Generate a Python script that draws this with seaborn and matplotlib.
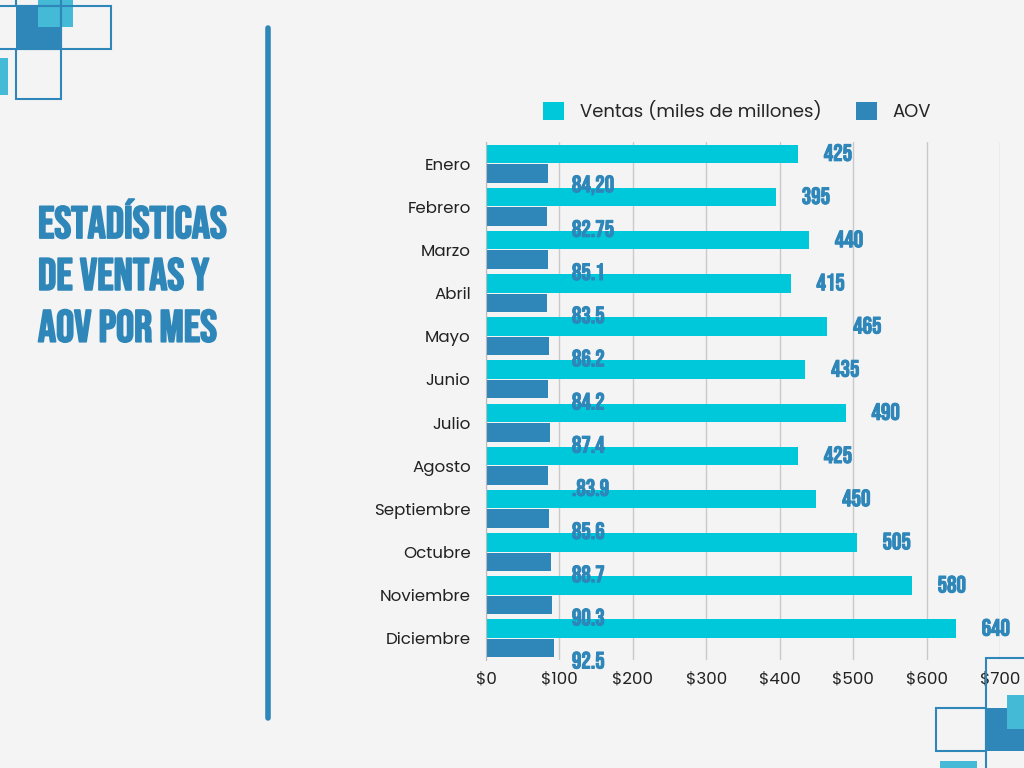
import numpy as np
import pandas as pd
import seaborn as sns
import matplotlib.pyplot as plt
import matplotlib.patheffects as pe
from matplotlib.patches import Rectangle, Patch
from matplotlib.lines import Line2D

meses = ["Enero", "Febrero", "Marzo", "Abril", "Mayo", "Junio", "Julio",
         "Agosto", "Septiembre", "Octubre", "Noviembre", "Diciembre"]
ventas = [425, 395, 440, 415, 465, 435, 490, 425, 450, 505, 580, 640]
aov = [84.20, 82.75, 85.1, 83.5, 86.2, 84.2, 87.4, 83.9, 85.6, 88.7, 90.3, 92.5]
aov_etiquetas = ["84,20", "82.75", "85.1", "83.5", "86.2", "84.2", "87.4",
                 ".83.9", "85.6", "88.7", "90.3", "92.5"]
x_ticks = [0, 100, 200, 300, 400, 500, 600, 700]
series = ["Ventas (miles de millones)", "AOV"]

CYAN = "#00C8DB"
AZUL = "#2E86B9"
CLARO = "#45BAD6"
FONDO = "#F4F4F4"

sns.set_style("white")
plt.rcParams["font.family"] = ["Poppins", "Open Sans", "DejaVu Sans"]
NARROW = ["Bebas Neue", "Anton", "Oswald", "Open Sans Condensed", "DejaVu Sans"]

df = pd.DataFrame({
    "mes": meses * 2,
    "serie": [series[0]] * len(meses) + [series[1]] * len(meses),
    "valor": ventas + aov,
})

W, H = 1024, 768
fig = plt.figure(figsize=(W / 100, H / 100), dpi=100, facecolor=FONDO)
ax = fig.add_axes([486 / W, 1 - 660 / H, 514 / W, 518 / H])
ax.set_facecolor(FONDO)

sns.barplot(data=df, y="mes", x="valor", hue="serie", orient="h",
            order=meses, hue_order=series, palette=[CYAN, AZUL],
            width=0.9, gap=0.05, saturation=1, linewidth=0, legend=False, ax=ax)

ax.set_xlim(0, 700)
ax.set_ylim(len(meses) - 0.5, -0.5)
ax.set_xticks(x_ticks)
ax.set_xticklabels([f"${t}" for t in x_ticks])
ax.set_xlabel("")
ax.set_ylabel("")
ax.tick_params(axis="both", length=0, labelsize=12, colors="#222222")
ax.tick_params(axis="y", pad=11)
ax.tick_params(axis="x", pad=8)
ax.grid(axis="x", color="#C9C9C9", lw=1)
ax.set_axisbelow(True)
for s in ["top", "right", "bottom"]:
    ax.spines[s].set_visible(False)
ax.spines["left"].set_color("#BBBBBB")

# etiquetas de valores (trazo fino para engrosar la fuente)
grueso = [pe.withStroke(linewidth=0.7, foreground=AZUL)]
for i, v in enumerate(ventas):
    ax.text(v + 35, i - 0.26, str(v), family=NARROW, fontsize=17,
            color=AZUL, va="center", ha="left", path_effects=grueso)
for i, lab in enumerate(aov_etiquetas):
    ax.text(117, i + 0.5, lab, family=NARROW, fontsize=17,
            color=AZUL, va="center", ha="left", path_effects=grueso)

# leyenda
handles = [Patch(facecolor=CYAN, edgecolor="none"), Patch(facecolor=AZUL, edgecolor="none")]
fig.legend(handles, series, loc="center", bbox_to_anchor=(737 / W, 1 - 112 / H),
           ncol=2, frameon=False, fontsize=13, handlelength=1.2, handleheight=1.2,
           handletextpad=0.85, columnspacing=1.9)

# titulo
fig.text(38 / W, 1 - 199 / H, "ESTADÍSTICAS\nDE VENTAS Y\nAOV POR MES", family=NARROW,
         fontsize=32.5, color=AZUL, va="top", ha="left", linespacing=1.62,
         transform=fig.transFigure,
         path_effects=[pe.withStroke(linewidth=1.3, foreground=AZUL)])

# linea divisoria
fig.add_artist(Line2D([268 / W, 268 / W], [1 - 28 / H, 1 - 718 / H], color=AZUL, lw=4,
                      transform=fig.transFigure))


def caja(x, y, w, h, fill=None, edge=None):
    r = Rectangle((x / W, 1 - (y + h) / H), w / W, h / H, transform=fig.transFigure,
                  facecolor=fill if fill else "none", edgecolor=edge if edge else "none",
                  lw=1.5, clip_on=False)
    fig.add_artist(r)


# decoracion arriba izquierda
caja(16, 6, 45, 43, fill=AZUL)
caja(38, -5, 35, 32, fill=CLARO)
caja(-40, 6, 101, 43, edge=AZUL)
caja(16, -40, 45, 46, edge=AZUL)
caja(61, 6, 50, 43, edge=AZUL)
caja(16, 49, 45, 50, edge=AZUL)
caja(-5, 58, 13, 37, fill=CLARO)

# decoracion abajo derecha
caja(986, 708, 50, 43, fill=AZUL)
caja(1007, 695, 30, 34, fill=CLARO)
caja(936, 708, 50, 43, edge=AZUL)
caja(986, 658, 60, 120, edge=AZUL)
caja(940, 761, 37, 12, fill=CLARO)

fig.savefig("out.png", dpi=100, facecolor=FONDO)
